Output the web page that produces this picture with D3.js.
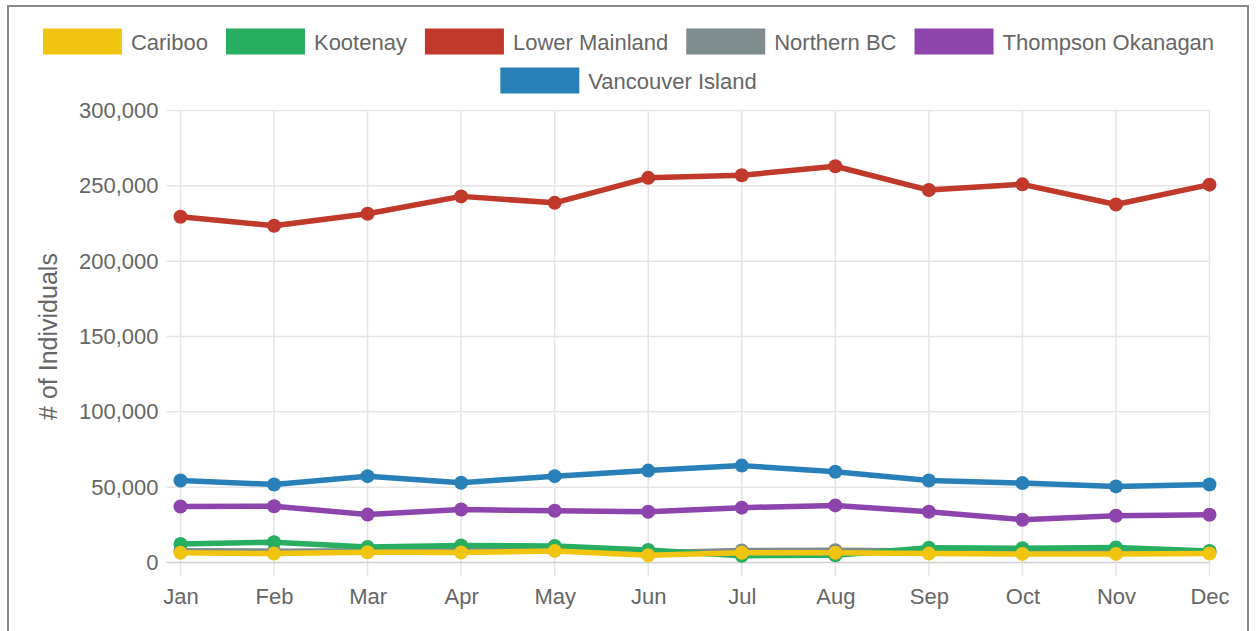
<!DOCTYPE html>
<html><head><meta charset="utf-8">
<script src="https://cdn.jsdelivr.net/npm/d3@7"></script>
<style>
html,body{margin:0;padding:0;background:#fff;}
svg{display:block;font-family:"Liberation Sans",Arial,sans-serif;}
</style></head>
<body>
<svg id="chart" width="1257" height="631"></svg>
<script>
const months = ["Jan","Feb","Mar","Apr","May","Jun","Jul","Aug","Sep","Oct","Nov","Dec"];
const seriesNames = ["Cariboo","Kootenay","Lower Mainland","Northern BC","Thompson Okanagan","Vancouver Island"];
const seriesColors = ["#f1c40f","#27ae60","#c0392b","#7f8c8d","#8e44ad","#2980b9"];
const cariboo = [6400, 5900, 6800, 6600, 7700, 4800, 6500, 6500, 5900, 5700, 5700, 6000];
const kootenay = [12300, 13500, 10300, 11300, 11000, 8300, 4500, 4800, 9800, 9500, 10000, 7700];
const lowerMainland = [229500, 223500, 231500, 243000, 238700, 255300, 257000, 263000, 247200, 251000, 237600, 250800];
const northernBC = [7800, 7500, 7800, 7800, 8200, 6500, 8000, 8200, 7600, 7800, 7800, 6800];
const thompsonOkanagan = [37200, 37300, 31800, 35200, 34300, 33700, 36400, 37900, 33700, 28400, 31000, 31700];
const vancouverIsland = [54400, 51800, 57300, 52900, 57300, 61000, 64300, 60200, 54400, 52700, 50500, 51800];
const yTicks = [0, 50000, 100000, 150000, 200000, 250000, 300000];
const yTitle = "# of Individuals";

const seriesValues = [cariboo, kootenay, lowerMainland, northernBC, thompsonOkanagan, vancouverIsland];
const series = seriesNames.map((n, i) => ({name: n, color: seriesColors[i], values: seriesValues[i]}));

const svg = d3.select("#chart");
const textColor = "#666";
const font = 22;

// frame
svg.append("path").attr("d", "M8,631 L8,6 L1248,6 L1248,631")
  .attr("fill", "none").attr("stroke", "#8a8a8a").attr("stroke-width", 2);

const x = d3.scalePoint().domain(months).range([180.5, 1209.5]);
const y = d3.scaleLinear().domain([0, 300000]).range([562.5, 110.5]);

// grid
const grid = svg.append("g");
grid.selectAll("line.v").data(months).join("line")
  .attr("x1", d => x(d)).attr("x2", d => x(d))
  .attr("y1", y(300000)).attr("y2", y(0) + 14)
  .attr("stroke", "#e5e5e5").attr("stroke-width", 1.5);
grid.selectAll("line.h").data(yTicks).join("line")
  .attr("x1", x("Jan") - 14).attr("x2", x("Dec"))
  .attr("y1", d => y(d)).attr("y2", d => y(d))
  .attr("stroke", d => d === 0 ? "#d0d0d0" : "#e5e5e5").attr("stroke-width", 1.5);

// axes labels via d3 axes
const yAxis = svg.append("g").attr("transform", `translate(${x("Jan") - 14},0)`)
  .call(d3.axisLeft(y).tickValues(yTicks).tickFormat(d3.format(",")).tickSize(0).tickPadding(8));
yAxis.select(".domain").remove();
yAxis.selectAll("text").attr("fill", textColor).style("font-size", font + "px")
  .style("font-family", '"Liberation Sans",Arial,sans-serif');

const xAxis = svg.append("g").attr("transform", `translate(0,${y(0) + 14})`)
  .call(d3.axisBottom(x).tickSize(0).tickPadding(12));
xAxis.select(".domain").remove();
xAxis.selectAll("text").attr("fill", textColor).style("font-size", font + "px")
  .style("font-family", '"Liberation Sans",Arial,sans-serif');

// y title
svg.append("text").attr("transform", `translate(57,${(y(0) + y(300000)) / 2}) rotate(-90)`)
  .attr("text-anchor", "middle").attr("fill", textColor).style("font-size", "25px")
  .text(yTitle);

// lines (first dataset on top)
const line = d3.line().x((d, i) => x(months[i])).y(d => y(d));
const drawOrder = series.slice().reverse();
drawOrder.forEach(s => {
  const g = svg.append("g");
  g.append("path").attr("d", line(s.values)).attr("fill", "none")
    .attr("stroke", s.color).attr("stroke-width", 5.5).attr("stroke-linejoin", "round");
  g.selectAll("circle").data(s.values).join("circle")
    .attr("cx", (d, i) => x(months[i])).attr("cy", d => y(d)).attr("r", 7)
    .attr("fill", s.color);
});

// legend
const legend = svg.append("g");
const boxW = 79, boxH = 26, gap = 9, spacing = 18;
const rows = [series.slice(0, 5), series.slice(5)];
const rowY = [41.5, 80.5];
rows.forEach((row, ri) => {
  const items = row.map(s => {
    const t = legend.append("text").attr("fill", textColor).style("font-size", font + "px")
      .attr("dominant-baseline", "central").text(s.name);
    return {s, t, w: t.node().getComputedTextLength()};
  });
  const total = d3.sum(items, it => boxW + gap + it.w) + spacing * (items.length - 1);
  let cx = 628.5 - total / 2;
  items.forEach(it => {
    legend.append("rect").attr("x", cx).attr("y", rowY[ri] - boxH / 2)
      .attr("width", boxW).attr("height", boxH).attr("fill", it.s.color);
    it.t.attr("x", cx + boxW + gap).attr("y", rowY[ri] + 1);
    cx += boxW + gap + it.w + spacing;
  });
});
</script>
</body></html>
